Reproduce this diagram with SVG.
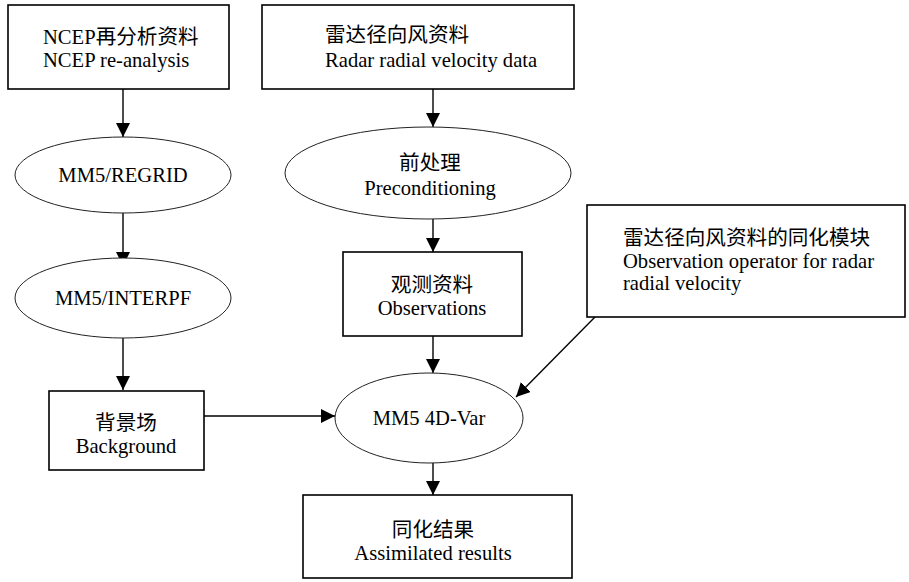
<svg xmlns="http://www.w3.org/2000/svg" width="909" height="582" viewBox="0 0 909 582">
<style>
.box{fill:#fff;stroke:#000;stroke-width:1.6}
.ell{fill:#fff;stroke:#222;stroke-width:1}
.t{font-family:"Liberation Serif","Noto Sans CJK SC",serif;font-size:20.6px;fill:#000}
.m{text-anchor:middle}
.c{stroke:#000;stroke-width:1.4;fill:none;marker-end:url(#ah)}
</style>
<defs>
<marker id="ah" markerUnits="userSpaceOnUse" markerWidth="14" markerHeight="14" viewBox="0 0 12 12" refX="12" refY="6" orient="auto">
<path d="M0,0 L12,6 L0,12 z" fill="#000"/>
</marker>
</defs>
<g id="connectors">
<line class="c" x1="123" y1="89" x2="123" y2="137"/>
<line class="c" x1="123" y1="213" x2="123" y2="266"/>
<line class="c" x1="123" y1="338" x2="123" y2="390"/>
<line class="c" x1="433" y1="89" x2="433" y2="127"/>
<line class="c" x1="433" y1="219" x2="433" y2="252"/>
<line class="c" x1="433" y1="336" x2="433" y2="373"/>
<line class="c" x1="204" y1="416" x2="335" y2="416"/>
<line class="c" x1="595" y1="317" x2="516" y2="397"/>
<line class="c" x1="433" y1="463" x2="433" y2="495"/>
</g>
<g id="ncep">
<rect class="box" x="8" y="5" width="221" height="84"/>
<text class="t" x="43" y="44">NCEP再分析资料</text>
<text class="t" x="43" y="67">NCEP re-analysis</text>
</g>
<g id="radar">
<rect class="box" x="262" y="5" width="312" height="84"/>
<text class="t" x="325" y="42">雷达径向风资料</text>
<text class="t" x="325" y="67">Radar radial velocity data</text>
</g>
<g id="regrid">
<ellipse class="ell" cx="123" cy="175" rx="108" ry="38"/>
<text class="t m" x="123" y="182">MM5/REGRID</text>
</g>
<g id="interpf">
<ellipse class="ell" cx="123" cy="298" rx="108" ry="40"/>
<text class="t m" x="123" y="305">MM5/INTERPF</text>
</g>
<g id="precond">
<ellipse class="ell" cx="428" cy="173" rx="143" ry="46"/>
<text class="t m" x="430" y="170">前处理</text>
<text class="t m" x="430" y="195">Preconditioning</text>
</g>
<g id="observations">
<rect class="box" x="343" y="252" width="179" height="84"/>
<text class="t m" x="432" y="292">观测资料</text>
<text class="t m" x="432" y="315">Observations</text>
</g>
<g id="operator">
<rect class="box" x="587" y="205" width="318" height="112"/>
<text class="t" x="623" y="245">雷达径向风资料的同化模块</text>
<text class="t" x="623" y="268">Observation operator for radar</text>
<text class="t" x="623" y="290">radial velocity</text>
</g>
<g id="background">
<rect class="box" x="49" y="391" width="155" height="79"/>
<text class="t m" x="126" y="430">背景场</text>
<text class="t m" x="126" y="453">Background</text>
</g>
<g id="var4d">
<ellipse class="ell" cx="429" cy="418" rx="94" ry="45"/>
<text class="t m" x="429" y="425">MM5 4D-Var</text>
</g>
<g id="results">
<rect class="box" x="303" y="495" width="269" height="83"/>
<text class="t m" x="433" y="537">同化结果</text>
<text class="t m" x="433" y="560">Assimilated results</text>
</g>
</svg>
